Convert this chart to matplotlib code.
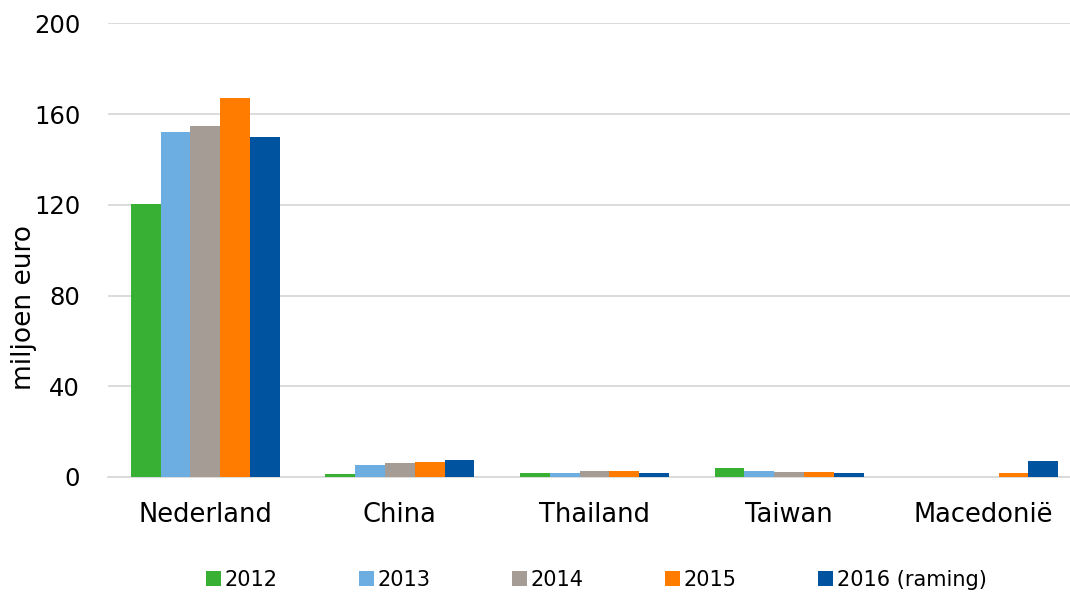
import matplotlib.pyplot as plt
import numpy as np

landen = ["Nederland", "China", "Thailand", "Taiwan", "Macedonië"]
jaren = ["2012", "2013", "2014", "2015", "2016 (raming)"]
waarden = {
    "2012": [120.5, 1.2, 1.9, 4.0, 0],
    "2013": [152.3, 5.3, 1.9, 2.7, 0],
    "2014": [155.0, 6.2, 2.5, 2.2, 0],
    "2015": [167.3, 6.8, 2.7, 2.0, 1.8],
    "2016 (raming)": [150.0, 7.5, 1.8, 1.6, 7.1],
}
kleuren = ["#37B034", "#6CAEE2", "#A59D95", "#FF7C00", "#00539F"]

fig = plt.figure(figsize=(10.7, 5.94), dpi=100)
# plot area runs a little past the right edge, like the original
ax = fig.add_axes([108/1070, 1-477/594, (1081-108)/1070, (477-23.5)/594])

x = np.arange(len(landen))
w = 0.153
for i, jaar in enumerate(jaren):
    ax.bar(x + (i - 2) * w, waarden[jaar], w, color=kleuren[i], label=jaar, zorder=3)

ax.set_xlim(-0.5, len(landen) - 0.5)
ax.set_ylim(0, 200)
ax.set_yticks([0, 40, 80, 120, 160, 200])
ax.set_xticks(x)
ax.set_xticklabels(landen)
ax.tick_params(axis="x", length=0, labelsize=18.5, pad=18)
ax.tick_params(axis="y", length=0, labelsize=17.5, pad=20)
ax.grid(axis="y", color="#D9D9D9", linewidth=1.3, zorder=0)
for s in ["top", "right", "left"]:
    ax.spines[s].set_visible(False)
ax.spines["bottom"].set_color("#D9D9D9")
ax.spines["bottom"].set_linewidth(1.3)
fig.text(24/1070, 1 - 308/594, "miljoen euro", rotation=90, fontsize=19,
         ha="center", va="center")

fig.legend(loc="center left", bbox_to_anchor=(206/1070, 1 - 580/594), ncol=5, frameon=False,
           fontsize=15, handlelength=0.7, handleheight=0.7, handletextpad=0.2, columnspacing=3.9,
           borderaxespad=0, borderpad=0)

fig.savefig("out.png", dpi=100)
